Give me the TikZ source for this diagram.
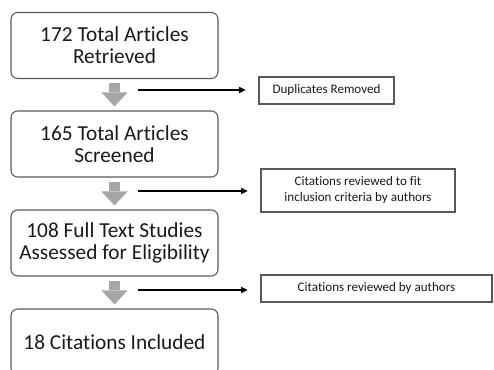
\documentclass[tikz,border=0pt]{standalone}
\usepackage{fontspec}
\setmainfont{Carlito}[Ligatures={NoCommon}]
\usetikzlibrary{arrows.meta,positioning}
\definecolor{flowgray}{HTML}{A6A6A6}
\definecolor{flowline}{HTML}{595959}
\definecolor{flowtext}{HTML}{1A1A1A}
\tikzset{
  stageBox/.style={draw=flowline, line width=0.8pt, rounded corners=5pt, align=center, inner sep=0pt,
    minimum width=155.25pt, minimum height=49.5pt, text=flowtext, font=\fontsize{16}{16.5}\selectfont},
  noteBox/.style={draw=flowline, line width=0.8pt, align=center, inner sep=0pt, minimum height=20.25pt,
    text=flowtext, font=\fontsize{9.8}{12}\selectfont},
  stageArrow/.style={draw=flowgray, line width=8.5pt, -{Triangle[width=19.5pt,length=10.5pt,line width=0pt]}},
  noteArrow/.style={draw=black, line width=1.1pt, -{Triangle[width=4.5pt,length=5pt]}, shorten >=9.5pt}
}

\begin{document}
\begin{tikzpicture}[x=0.75pt,y=-0.75pt]
  \useasboundingbox (0,0) rectangle (494,370);
  % main stages
  \node[stageBox] (retrieved) at (114.5,45.5) {172 Total Articles\\ Retrieved};
  \node[stageBox] (screened) at (114.5,144) {165 Total Articles\\ Screened};
  \node[stageBox] (assessed) at (114.5,243) {108 Full Text Studies\\ Assessed for Eligibility};
  \node[stageBox] (included) at (114.5,342) {18 Citations Included};
  % side notes
  \node[noteBox, minimum width=101.25pt] (dupl) at (326.5,90.5) {Duplicates Removed};
  \node[noteBox, minimum width=145.5pt, minimum height=32.25pt] (fit) at (358,190.5) {Citations reviewed to fit\\ inclusion criteria by authors};
  \node[noteBox, minimum width=173.25pt] (review) at (376.5,288.5) {Citations reviewed by authors};
  % flow
  \draw[stageArrow] ([yshift=-3pt]retrieved.south) -- ([yshift=3pt]screened.north);
  \draw[stageArrow] ([yshift=-3pt]screened.south) -- ([yshift=3pt]assessed.north);
  \draw[stageArrow] ([yshift=-3pt]assessed.south) -- ([yshift=3pt]included.north);
  \foreach \y/\to in {90/dupl,191/fit,290/review} {
    \coordinate (from-\to) at (138,\y);
    \draw[noteArrow] (from-\to) -- (\to.west |- from-\to);
  }
\end{tikzpicture}
\end{document}
